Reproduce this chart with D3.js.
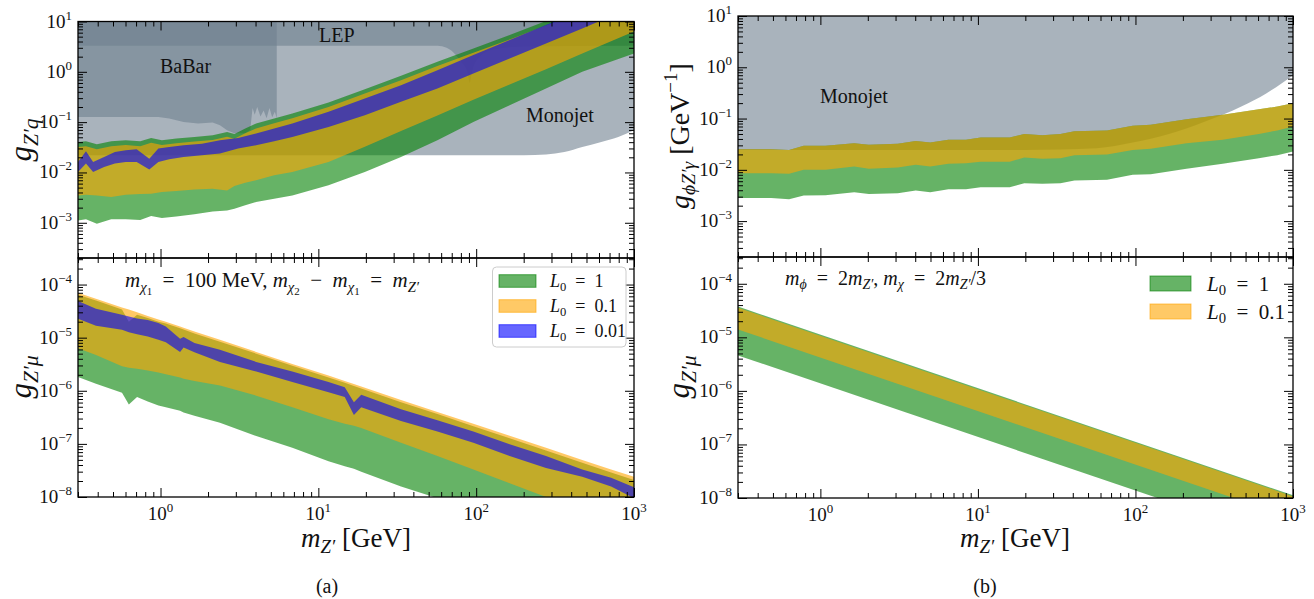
<!DOCTYPE html>
<html lang="en">
<head>
<meta charset="UTF-8">
<title>Z' limits</title>
<script src="https://cdn.jsdelivr.net/npm/d3@7"></script>
<style>
  body { margin: 0; background: #fff; }
  text { font-family: "Liberation Serif", "DejaVu Serif", serif; fill: #111; }
</style>
</head>
<body>
<script>
// ---------- data ----------
const xDomain = [0.3, 1000];

// (a) top: g_Z'q
const massTopA = [0.3, 0.337, 0.395, 0.487, 0.602, 0.744, 0.872, 1.02, 1.26, 1.64, 2.14, 2.64, 2.94, 3.44, 4.03, 5.25, 6.84, 11.6, 19.7, 33.4, 56.8, 96, 163, 277, 470, 1000];
const greenHiA = [0.0404, 0.0417, 0.0363, 0.0417, 0.0436, 0.0417, 0.0486, 0.0436, 0.0471, 0.0508, 0.0549, 0.064, 0.0583, 0.0745, 0.0936, 0.118, 0.148, 0.245, 0.452, 0.832, 1.58, 2.91, 5.37, 10.2, 19.7, 53];
const greenLoA = [0.00111, 0.00117, 0.00096, 0.00117, 0.00117, 0.00113, 0.00136, 0.00124, 0.00134, 0.00147, 0.00168, 0.00176, 0.0019, 0.00222, 0.00258, 0.00301, 0.0035, 0.00554, 0.0102, 0.0203, 0.0436, 0.101, 0.217, 0.466, 1.0, 2.32];
const orangeHiA = [0.032, 0.033, 0.029, 0.033, 0.035, 0.033, 0.039, 0.035, 0.038, 0.041, 0.044, 0.051, 0.047, 0.06, 0.075, 0.095, 0.12, 0.2, 0.37, 0.68, 1.3, 2.4, 4.4, 8.3, 16, 43];
const orangeLoA = [0.0035, 0.0036, 0.0035, 0.00325, 0.0036, 0.00373, 0.00378, 0.00408, 0.00428, 0.00461, 0.00475, 0.0044, 0.00538, 0.00627, 0.00697, 0.00877, 0.0102, 0.0162, 0.0326, 0.067, 0.135, 0.277, 0.56, 1.13, 2.32, 6.35];
const massBlueA = [0.3, 0.337, 0.374, 0.439, 0.514, 0.602, 0.706, 0.849, 0.969, 1.135, 1.40, 1.83, 2.38, 3.10, 4.03, 5.25, 6.84, 11.6, 19.7, 33.4, 56.8, 96, 163, 277, 470, 1000];
const blueHiA = [0.0162, 0.0264, 0.0162, 0.0203, 0.0255, 0.0276, 0.0289, 0.0188, 0.0298, 0.0321, 0.0347, 0.0374, 0.0436, 0.0486, 0.0592, 0.0745, 0.0936, 0.160, 0.294, 0.543, 1.08, 2.15, 4.27, 8.5, 16.9, 45];
const blueLoA = [0.0102, 0.015, 0.0102, 0.0129, 0.015, 0.0162, 0.0162, 0.0115, 0.0162, 0.0183, 0.0203, 0.0219, 0.0237, 0.0298, 0.0347, 0.0417, 0.0508, 0.0804, 0.137, 0.253, 0.466, 0.927, 1.84, 3.66, 7.3, 19.7];

// excluded regions in (a) top
const monoMassA = [0.3, 100, 200, 277, 362, 470, 612, 795, 1000];
const monoLoA = [0.0219, 0.0219, 0.0219, 0.0227, 0.0255, 0.032, 0.040, 0.0508, 0.069];
const babarMass = [0.3, 0.97, 1.135, 1.40, 1.73, 2.14, 2.38, 2.64, 2.94, 3.44, 3.7, 3.83, 3.95, 4.1, 4.3, 4.5, 4.7, 4.9, 5.1, 5.3, 5.45];
const babarLo = [0.127, 0.127, 0.118, 0.101, 0.094, 0.098, 0.087, 0.069, 0.06, 0.06, 0.07, 0.19, 0.14, 0.2, 0.13, 0.17, 0.12, 0.19, 0.125, 0.16, 0.12];
const lepMass = [0.3, 50, 57, 65, 72, 80, 88, 91, 94, 105, 130, 200, 1000];
const lepLo = [3.3, 3.3, 3.3, 3.0, 2.4, 1.6, 1.0, 0.6, 1.0, 2.0, 2.8, 3.2, 3.3];

// (a) bottom: g_Z'mu
const massBotA = [0.3, 0.39, 0.57, 0.63, 0.71, 0.83, 0.97, 1.08, 1.33, 1.4, 1.64, 2.38, 4.04, 6.84, 11.6, 14.7, 16.8, 18.7, 33.4, 56.8, 96, 163, 277, 470, 716, 1000];
const greenHiBotA = [6.4e-5, 5.0e-5, 3.4e-5, 2.0e-5, 2.7e-5, 2.35e-5, 2.0e-5, 1.85e-5, 1.5e-5, 1.42e-5, 1.2e-5, 8.4e-6, 5.0e-6, 2.95e-6, 1.78e-6, 1.41e-6, 1.23e-6, 1.1e-6, 6.1e-7, 3.65e-7, 2.15e-7, 1.28e-7, 7.5e-8, 4.4e-8, 2.9e-8, 2.1e-8];
const greenLoBotA = [1.82e-6, 1.36e-6, 9.2e-7, 5.5e-7, 7.6e-7, 6.3e-7, 5.3e-7, 4.9e-7, 4.2e-7, 3.9e-7, 3.4e-7, 2.5e-7, 1.41e-7, 8.5e-8, 4.7e-8, 3.8e-8, 3.4e-8, 3.0e-8, 1.58e-8, 9.5e-9, 5.3e-9, 3.2e-9, 1.9e-9, 1.1e-9, 7e-10, 5e-10];
const orangeHiBotA = [7.0e-5, 5.4e-5, 3.7e-5, 3.4e-5, 3.0e-5, 2.56e-5, 2.2e-5, 2.0e-5, 1.63e-5, 1.54e-5, 1.30e-5, 9.1e-6, 5.4e-6, 3.2e-6, 1.93e-6, 1.53e-6, 1.34e-6, 1.21e-6, 6.7e-7, 4.0e-7, 2.4e-7, 1.43e-7, 8.5e-8, 5.0e-8, 3.3e-8, 2.4e-8];
const orangeLoBotA = [6.3e-6, 4.7e-6, 2.9e-6, 2.7e-6, 2.6e-6, 2.4e-6, 2.2e-6, 2.05e-6, 1.77e-6, 1.69e-6, 1.53e-6, 1.26e-6, 8.1e-7, 4.9e-7, 2.9e-7, 2.4e-7, 2.2e-7, 2.0e-7, 1.05e-7, 5.9e-8, 3.3e-8, 1.82e-8, 1.0e-8, 5.6e-9, 3.7e-9, 2.5e-9];
const blueHiBotA = [4.9e-5, 3.5e-5, 2.7e-5, 2.5e-5, 2.3e-5, 2.15e-5, 1.88e-5, 1.63e-5, 9.5e-6, 1.03e-5, 7.9e-6, 5.9e-6, 3.5e-6, 2.3e-6, 1.46e-6, 1.17e-6, 6.1e-7, 8.4e-7, 4.5e-7, 2.8e-7, 1.71e-7, 9.8e-8, 5.9e-8, 3.3e-8, 2.3e-8, 1.53e-8];
const blueLoBotA = [2.27e-5, 1.68e-5, 1.41e-5, 1.27e-5, 1.16e-5, 1.05e-5, 9.1e-6, 8.2e-6, 5.4e-6, 6.5e-6, 5.3e-6, 3.5e-6, 2.3e-6, 1.46e-6, 9.4e-7, 7.6e-7, 3.5e-7, 4.9e-7, 2.7e-7, 1.71e-7, 1.05e-7, 5.9e-8, 3.5e-8, 2.4e-8, 1.58e-8, 9.5e-9];

// (b) top: g_phiZ'gamma
const massTopB = [0.3, 0.487, 0.633, 0.784, 1.077, 1.64, 2.03, 3.1, 4.03, 4.98, 6.5, 8.4, 10.4, 15.9, 19.7, 25.6, 33.4, 41, 66, 96, 125, 211, 358, 607, 795, 1000];
const orangeHiB = [0.0253, 0.0253, 0.0245, 0.0294, 0.0294, 0.0331, 0.0307, 0.0321, 0.0367, 0.034, 0.0384, 0.0384, 0.0426, 0.0426, 0.0502, 0.0473, 0.0502, 0.0566, 0.0584, 0.072, 0.0753, 0.097, 0.118, 0.152, 0.171, 0.199];
const orangeLoB = [0.0086, 0.0086, 0.00836, 0.01, 0.01, 0.0116, 0.01045, 0.0111, 0.0125, 0.0116, 0.0131, 0.0135, 0.0143, 0.0143, 0.0174, 0.0164, 0.0169, 0.0193, 0.0199, 0.0245, 0.0257, 0.0331, 0.0384, 0.0502, 0.0584, 0.0699];
const greenLoB = [0.00281, 0.00281, 0.00268, 0.00316, 0.00321, 0.00367, 0.00336, 0.0035, 0.00396, 0.00367, 0.0042, 0.0042, 0.00459, 0.00459, 0.0055, 0.00534, 0.0055, 0.0062, 0.00638, 0.008, 0.00824, 0.01045, 0.0131, 0.0169, 0.0193, 0.0228];
const monoMassB = [0.3, 19.7, 56.8, 96, 163, 277, 470, 680, 1000];
const monoLoB = [0.0245, 0.0245, 0.0264, 0.034, 0.050, 0.0875, 0.171, 0.312, 0.7];

// (b) bottom: g_Z'mu, straight bands
const massBotB = [0.3, 1000];
const greenHiBotB = [3.75e-5, 1.12e-8];
const orangeHiBotB = [3.57e-5, 1.07e-8];
const orangeLoBotB = [1.4e-5, 4.2e-9];
const greenLoBotB = [4.6e-6, 1.38e-9];

const yTopDomain = [Math.pow(10, -3.7), 10];
const yBotDomain = [1e-8, Math.pow(10, -3.5)];
const yTopMajors = [1, 0, -1, -2, -3];
const yBotMajors = [-4, -5, -6, -7, -8];

// ---------- drawing ----------
const W = 1314, H = 599;
const svg = d3.select('body').append('svg').attr('width', W).attr('height', H);
const defs = svg.append('defs');

const GREEN = 'rgb(0,128,0)', ORANGE = 'rgb(255,165,0)', BLUE = 'rgb(0,0,255)', SLATE = 'rgb(112,128,144)';
const ALPHA = 0.6;
const EQ = '\u2002=\u2002';

// text with italic / sub / sup pieces
function rich(sel, parts, size) {
  let cur = 0;
  parts.forEach(p => {
    const lv = p.lv || 0;
    let off = 0, fs = size;
    if (lv === 1) { off = 0.22 * size; fs = 0.7 * size; }
    if (lv === 2) { off = 0.38 * size; fs = 0.52 * size; }
    if (lv === -1) { off = -0.42 * size; fs = 0.68 * size; }
    const t = sel.append('tspan').text(p.t).attr('font-size', fs).attr('dy', off - cur);
    if (p.i) t.attr('font-style', 'italic');
    cur = off;
  });
  return sel;
}

function sup(exp) {
  return [{t: '10'}, {t: exp < 0 ? '\u2212' + (-exp) : String(exp), lv: -1}];
}

function panel(id, x0, x1, y0, y1, yDomain) {
  const x = d3.scaleLog().domain(xDomain).range([x0, x1]);
  const y = d3.scaleLog().domain(yDomain).range([y1, y0]);
  defs.append('clipPath').attr('id', id).append('rect')
    .attr('x', x0).attr('y', y0).attr('width', x1 - x0).attr('height', y1 - y0);
  const g = svg.append('g');
  const plot = g.append('g').attr('clip-path', 'url(#' + id + ')');
  return {x, y, g, plot, x0, x1, y0, y1, yDomain};
}

function band(p, mass, lo, hi, color, curve) {
  const top = p.yDomain[1] * 2;
  const rows = mass.map((m, i) => ({m: m, lo: lo[i], hi: hi === null ? top : hi[i]}));
  const area = d3.area()
    .x(d => p.x(d.m))
    .y0(d => p.y(d.lo))
    .y1(d => p.y(d.hi))
    .curve(curve || d3.curveLinear);
  p.plot.append('path').datum(rows).attr('d', area)
    .attr('fill', color).attr('fill-opacity', ALPHA);
}

function minors(lo, hi) {
  const out = [];
  for (let e = Math.floor(Math.log10(lo)) - 1; e <= Math.ceil(Math.log10(hi)); e++) {
    for (let k = 2; k <= 9; k++) {
      const v = k * Math.pow(10, e);
      if (v >= lo * 0.999 && v <= hi * 1.001) out.push(v);
    }
  }
  return out;
}

function frame(p, yMajorExps, xLabels) {
  const {x, y, g, x0, x1, y0, y1} = p;
  const xMaj = [1, 10, 100, 1000];
  const xMin = minors(xDomain[0], xDomain[1]);
  const yMaj = yMajorExps.map(e => Math.pow(10, e));
  const yMin = minors(p.yDomain[0], p.yDomain[1]);

  const axes = [
    [d3.axisBottom(x), 'translate(0,' + y1 + ')', xMaj, xMin],
    [d3.axisTop(x), 'translate(0,' + y0 + ')', xMaj, xMin],
    [d3.axisLeft(y), 'translate(' + x0 + ',0)', yMaj, yMin],
    [d3.axisRight(y), 'translate(' + x1 + ',0)', yMaj, yMin]
  ];
  axes.forEach(([ax, tr, maj, mn]) => {
    [[maj, -9], [mn, -5]].forEach(([vals, len]) => {
      const a = g.append('g').attr('transform', tr)
        .call(ax.tickValues(vals).tickSize(len).tickSizeOuter(0).tickFormat(''));
      a.select('.domain').remove();
      a.selectAll('line').attr('stroke', '#000').attr('stroke-width', 1);
    });
  });

  g.append('rect').attr('x', x0).attr('y', y0).attr('width', x1 - x0).attr('height', y1 - y0)
    .attr('fill', 'none').attr('stroke', '#000').attr('stroke-width', 1.3);

  yMajorExps.forEach(e => {
    const t = g.append('text').attr('x', x0 - 6).attr('y', y(Math.pow(10, e)) + 6)
      .attr('text-anchor', 'end');
    rich(t, sup(e), 19);
  });
  if (xLabels) {
    [0, 1, 2, 3].forEach(e => {
      const t = g.append('text').attr('x', x(Math.pow(10, e))).attr('y', y1 + 23)
        .attr('text-anchor', 'middle');
      rich(t, sup(e), 19);
    });
  }
}

function ylabel(xpos, ypos, parts, size) {
  const t = svg.append('text')
    .attr('transform', 'translate(' + xpos + ',' + ypos + ') rotate(-90)')
    .attr('text-anchor', 'middle');
  rich(t, parts, size);
}

function label(xpos, ypos, parts, size, anchor) {
  const t = svg.append('text').attr('x', xpos).attr('y', ypos)
    .attr('text-anchor', anchor || 'start');
  rich(t, parts, size);
}

// ---- panel (a) top ----
const pa = panel('clipA', 78, 634, 21.5, 258, yTopDomain);
band(pa, monoMassA, monoLoA, null, SLATE, d3.curveMonotoneX);
band(pa, babarMass, babarLo, null, SLATE);
band(pa, lepMass, lepLo, null, SLATE, d3.curveMonotoneX);
band(pa, massTopA, greenLoA, greenHiA, GREEN);
band(pa, massTopA, orangeLoA, orangeHiA, ORANGE);
band(pa, massBlueA, blueLoA, blueHiA, BLUE);
frame(pa, yTopMajors, false);
label(160, 73, [{t: 'BaBar'}], 20);
label(319, 42, [{t: 'LEP'}], 20);
label(526, 122, [{t: 'Monojet'}], 20);

// ---- panel (a) bottom ----
const pb = panel('clipB', 78, 634, 258, 497, yBotDomain);
band(pb, massBotA, greenLoBotA, greenHiBotA, GREEN);
band(pb, massBotA, orangeLoBotA, orangeHiBotA, ORANGE);
band(pb, massBotA, blueLoBotA, blueHiBotA, BLUE);
frame(pb, yBotMajors, true);
label(125, 287, [
  {t: 'm', i: 1}, {t: '\u03c7', i: 1, lv: 1}, {t: '1', lv: 2}, {t: EQ + '100 MeV, '},
  {t: 'm', i: 1}, {t: '\u03c7', i: 1, lv: 1}, {t: '2', lv: 2}, {t: '\u2002\u2212\u2002'},
  {t: 'm', i: 1}, {t: '\u03c7', i: 1, lv: 1}, {t: '1', lv: 2}, {t: EQ},
  {t: 'm', i: 1}, {t: 'Z\u2032', i: 1, lv: 1}
], 21);

// legend (a)
const legA = svg.append('g');
legA.append('rect').attr('x', 492.5).attr('y', 267).attr('width', 133.5).attr('height', 80)
  .attr('rx', 4).attr('fill', '#fff').attr('fill-opacity', 0.8).attr('stroke', '#ccc');
[[GREEN, '1'], [ORANGE, '0.1'], [BLUE, '0.01']].forEach(([c, v], i) => {
  const cy = 281 + i * 25;
  legA.append('rect').attr('x', 499).attr('y', cy - 6.3).attr('width', 37).attr('height', 12.6)
    .attr('fill', c).attr('fill-opacity', ALPHA).attr('stroke', c).attr('stroke-opacity', ALPHA);
  const t = legA.append('text').attr('x', 550).attr('y', cy + 6);
  rich(t, [{t: 'L', i: 1}, {t: '0', lv: 1}, {t: EQ + v}], 18);
});

// ---- panel (b) top ----
const pc = panel('clipC', 738, 1293, 16, 257, yTopDomain);
band(pc, monoMassB, monoLoB, null, SLATE, d3.curveMonotoneX);
band(pc, massTopB, greenLoB, orangeHiB, GREEN);
band(pc, massTopB, orangeLoB, orangeHiB, ORANGE);
frame(pc, yTopMajors, false);
label(820, 103, [{t: 'Monojet'}], 20);

// ---- panel (b) bottom ----
const pd = panel('clipD', 738, 1293, 257, 498, yBotDomain);
band(pd, massBotB, greenLoBotB, greenHiBotB, GREEN);
band(pd, massBotB, orangeLoBotB, orangeHiBotB, ORANGE);
frame(pd, yBotMajors, true);
label(785, 285, [
  {t: 'm', i: 1}, {t: '\u03d5', i: 1, lv: 1}, {t: EQ + '2'},
  {t: 'm', i: 1}, {t: 'Z\u2032', i: 1, lv: 1}, {t: ', '},
  {t: 'm', i: 1}, {t: '\u03c7', i: 1, lv: 1}, {t: EQ + '2'},
  {t: 'm', i: 1}, {t: 'Z\u2032', i: 1, lv: 1}, {t: '/3'}
], 20);

// legend (b), no frame
[[GREEN, '1'], [ORANGE, '0.1']].forEach(([c, v], i) => {
  const cy = 283.5 + i * 28;
  svg.append('rect').attr('x', 1150).attr('y', cy - 7.5).attr('width', 41).attr('height', 15)
    .attr('fill', c).attr('fill-opacity', ALPHA).attr('stroke', c).attr('stroke-opacity', ALPHA);
  const t = svg.append('text').attr('x', 1207).attr('y', cy + 7);
  rich(t, [{t: 'L', i: 1}, {t: '0', lv: 1}, {t: EQ + v}], 21);
});

// axis titles
ylabel(31, 140, [{t: 'g', i: 1}, {t: 'Z\u2032q', i: 1, lv: 1}], 31);
ylabel(31, 377, [{t: 'g', i: 1}, {t: 'Z\u2032\u03bc', i: 1, lv: 1}], 31);
ylabel(689, 136, [{t: 'g', i: 1}, {t: '\u03d5Z\u2032\u03b3', i: 1, lv: 1}, {t: ' [GeV', lv: 0}, {t: '\u22121', lv: -1}, {t: ']'}], 28);
ylabel(689, 377, [{t: 'g', i: 1}, {t: 'Z\u2032\u03bc', i: 1, lv: 1}], 31);

label(356, 547, [{t: 'm', i: 1}, {t: 'Z\u2032', i: 1, lv: 1}, {t: ' [GeV]'}], 27, 'middle');
label(1015, 547, [{t: 'm', i: 1}, {t: 'Z\u2032', i: 1, lv: 1}, {t: ' [GeV]'}], 27, 'middle');
label(327, 593, [{t: '(a)'}], 20, 'middle');
label(985, 593, [{t: '(b)'}], 20, 'middle');
</script>
</body>
</html>
